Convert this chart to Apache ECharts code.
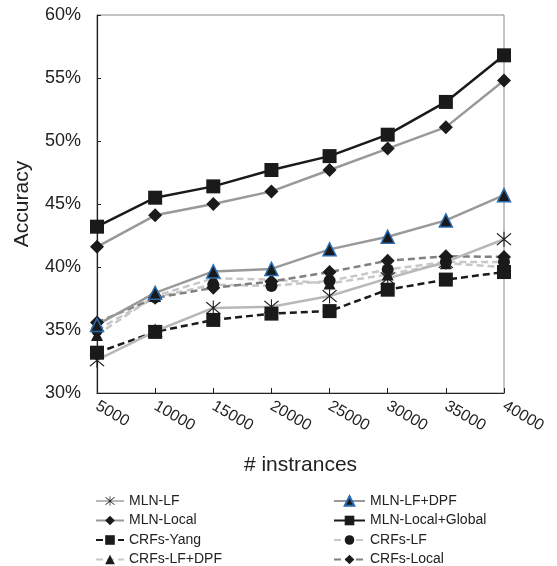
<!DOCTYPE html>
<html>
<head>
<meta charset="utf-8">
<script src="https://cdn.jsdelivr.net/npm/echarts@6/dist/echarts.min.js"></script>
<style>html,body{margin:0;padding:0;background:#fff}#c{width:557px;height:566px}</style>
</head>
<body>
<div id="c"></div>
<script>
var categories = ['5000','10000','15000','20000','25000','30000','35000','40000'];
var mlnLF        = [32.6, 34.9, 36.75, 36.85, 37.7, 39.1, 40.4, 42.2];
var mlnLocal     = [41.6, 44.1, 45.0, 46.0, 47.7, 49.4, 51.1, 54.8];
var mlnLFDPF     = [35.4, 37.95, 39.65, 39.85, 41.4, 42.4, 43.7, 45.7];
var mlnGlobal    = [43.2, 45.5, 46.4, 47.7, 48.8, 50.5, 53.1, 56.8];
var crfsYang     = [33.2, 34.85, 35.8, 36.3, 36.5, 38.2, 39.0, 39.6];
var crfsLF       = [35.0, 37.6, 38.6, 38.5, 38.9, 39.8, 40.4, 40.4];
var crfsLFDPF    = [34.6, 37.7, 39.1, 39.0, 38.7, 39.4, 40.3, 40.0];
var crfsLocal    = [35.6, 37.55, 38.35, 38.85, 39.6, 40.5, 40.85, 40.8];
var legendLeft   = ['MLN-LF','MLN-Local','CRFs-Yang','CRFs-LF+DPF'];
var legendRight  = ['MLN-LF+DPF','MLN-Local+Global','CRFs-LF','CRFs-Local'];

var FONT = 'Liberation Sans, Arial, sans-serif';
var asterisk = 'path://M9.4,0 L10.6,0 L10.6,20 L9.4,20 Z M1.6,2.6 L2.6,1.6 L18.4,17.4 L17.4,18.4 Z M17.4,1.6 L18.4,2.6 L2.6,18.4 L1.6,17.4 Z';

function mk(name, data, lineColor, type, symbol, size, extra) {
  var s = {
    name: name, type: 'line', data: data,
    symbol: symbol, symbolSize: size,
    lineStyle: {color: lineColor, width: 2.5, type: type === 'dashed' ? [7,4] : 'solid'},
    itemStyle: {color: '#1a1a1a', borderWidth: 0},
    emphasis: {disabled: true},
    animation: false
  };
  if (extra) { for (var k in extra) s[k] = extra[k]; }
  return s;
}

var chart = echarts.init(document.getElementById('c'), null, {renderer: 'canvas'});
chart.setOption({
  backgroundColor: '#fff',
  animation: false,
  grid: {left: 97, right: 53, top: 15, bottom: 173, show: true, borderColor: '#888', borderWidth: 1, backgroundColor: 'transparent'},
  xAxis: {
    type: 'category', data: categories, boundaryGap: false,
    name: '# instrances', nameLocation: 'middle', nameGap: 62,
    nameTextStyle: {fontFamily: FONT, fontSize: 21, color: '#222'},
    axisLine: {lineStyle: {color: '#222', width: 1.2}},
    axisTick: {show: true, inside: true, length: 5, lineStyle: {color: '#222'}},
    axisLabel: {rotate: -30, fontFamily: FONT, fontSize: 16, color: '#222', margin: 12, interval: 0},
    splitLine: {show: false}
  },
  yAxis: {
    type: 'value', min: 30, max: 60, interval: 5,
    name: 'Accuracy', nameLocation: 'middle', nameGap: 64,
    nameTextStyle: {fontFamily: FONT, fontSize: 21, color: '#222'},
    axisLine: {show: true, lineStyle: {color: '#222', width: 1.2}},
    axisTick: {show: true, inside: true, length: 4, lineStyle: {color: '#222'}},
    axisLabel: {formatter: '{value}%', fontFamily: FONT, fontSize: 18, color: '#222', margin: 16},
    splitLine: {show: false}
  },
  legend: [
    {
      orient: 'vertical', left: 95, top: 494, height: 100, padding: 0, itemGap: 5.5, itemWidth: 28, itemHeight: 12,
      textStyle: {fontFamily: FONT, fontSize: 14, color: '#222'},
      data: legendLeft
    },
    {
      orient: 'vertical', left: 333, top: 494, height: 100, padding: 0, itemGap: 5.5, itemWidth: 31, itemHeight: 12,
      textStyle: {fontFamily: FONT, fontSize: 14, color: '#222'},
      data: legendRight
    }
  ],
  series: [
    mk('CRFs-LF', crfsLF, '#c8c8c8', 'dashed', 'circle', 12),
    mk('CRFs-LF+DPF', crfsLFDPF, '#c8c8c8', 'dashed', 'triangle', 12),
    mk('CRFs-Local', crfsLocal, '#808080', 'dashed', 'diamond', 14),
    mk('CRFs-Yang', crfsYang, '#1a1a1a', 'dashed', 'rect', 14),
    mk('MLN-LF', mlnLF, '#b8b8b8', 'solid', asterisk, 15),
    mk('MLN-LF+DPF', mlnLFDPF, '#999999', 'solid', 'triangle', 13, {itemStyle: {color: '#1a1a1a', borderColor: '#2a6bb0', borderWidth: 1.5}}),
    mk('MLN-Local', mlnLocal, '#999999', 'solid', 'diamond', 14),
    mk('MLN-Local+Global', mlnGlobal, '#1a1a1a', 'solid', 'rect', 14)
  ]
});
</script>
</body>
</html>
